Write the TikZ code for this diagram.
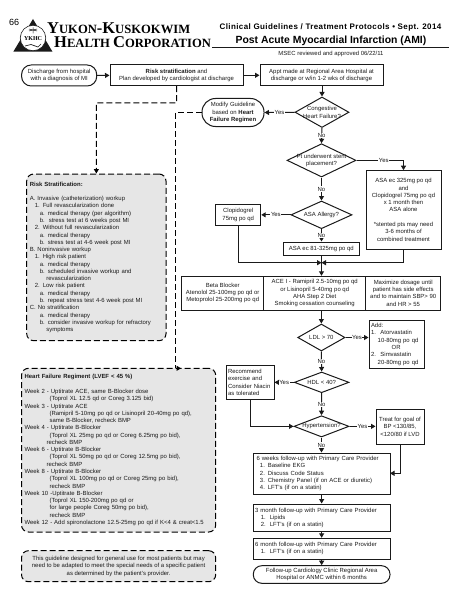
\documentclass[tikz,border=0pt]{standalone}
\usepackage{fontspec}
\setmainfont{Liberation Sans}
\newfontfamily\serifcaps{Liberation Serif}
\newfontfamily\spaced[LetterSpace=5]{Liberation Sans}
\usetikzlibrary{arrows.meta,shapes.geometric,calc}
\definecolor{panel}{HTML}{E6E6E6}
\definecolor{ink}{HTML}{1A1A1A}
\newcommand{\fs}{\fontsize{5.95}{7.27}\selectfont}
\newcommand{\ycaps}[2]{{\fontsize{16.5}{16.5}\selectfont #1}{\fontsize{12.6}{12.6}\selectfont #2}}
\tikzset{
  flowbox/.style={draw=ink,line width=1pt,align=center,inner sep=0pt,font=\fs,text=ink},
  leftbox/.style={flowbox,align=left},
  term/.style={flowbox,rounded corners=9.5pt},
  dec/.style={draw=ink,line width=1pt,shape=diamond,inner sep=0pt,aspect=2},
  dectext/.style={font=\fs,align=center,text=ink,inner sep=0pt},
  panelbox/.style={draw=black,fill=panel,line width=1pt,dash pattern=on 6pt off 3pt,rounded corners=7pt,inner sep=0pt,font=\fs,text=ink},
  conn/.style={draw=ink,line width=1pt,-{Triangle[length=4.5pt,width=5pt]}},
  dconn/.style={draw=black,line width=1pt,dash pattern=on 6pt off 3pt},
  ans/.style={font=\fs,fill=white,inner sep=0.6pt,text=ink}
}
\newcommand{\pbx}[7]{\node[#1,minimum width={(#5-#3)*1pt},minimum height={(#6-#4)*1pt}] (#2) at ({(#3+#5)/2},{(#4+#6)/2}) {#7};}
\newcommand{\pdec}[6]{\node[dec,minimum width={(#4-#2)*1pt},minimum height={(#5-#3)*1pt}] (#1) at ({(#2+#4)/2},{(#3+#5)/2}) {};\node[dectext] (#1t) at (#1.center) {#6};}
\begin{document}
\begin{tikzpicture}[x=1pt,y=-1pt]
\useasboundingbox (0,0) rectangle (463,599);
% header
\node[font=\fontsize{9}{9}\selectfont,inner sep=0pt] (pagenum) at (14.2,22.7) {66};
\fill[ink] (33,19) -- (52.5,51.7) -- (13.3,51.7) -- cycle;
\node[circle,draw=ink,fill=white,line width=.6pt,minimum size=25.5pt,inner sep=0pt] (seal) at (33,38) {};
\node[font=\serifcaps\bfseries\fontsize{6}{6}\selectfont,inner sep=0pt] (sealtext) at (33,39) {YKHC};
\draw[ink,line width=.5pt] (33,33.5) -- (33,27.5) (29,31) -- (37,29) (29,29) -- (37,31);
\draw[ink,line width=.7pt] (25,46) -- (31,44.5) -- (38,47) -- (41,44);
\node[font=\serifcaps\bfseries,anchor=base west,inner sep=0pt] (ykhc1) at (47,33.2) {\ycaps{Y}{UKON}\ycaps{-K}{USKOKWIM}};
\node[font=\serifcaps\bfseries,anchor=base west,inner sep=0pt] (ykhc2) at (54,47.4) {\ycaps{H}{EALTH }\ycaps{C}{ORPORATION}};
\node[font=\spaced\bfseries\fontsize{8}{8}\selectfont,inner sep=0pt] (cg) at (330.5,27.7) {Clinical Guidelines / Treatment Protocols • Sept. 2014};
\node[font=\bfseries\fontsize{10.4}{10.4}\selectfont,inner sep=0pt] (title) at (331,40.5) {Post Acute Myocardial Infarction (AMI)};
\coordinate (rulel) at (212,47.2);
\coordinate (ruler) at (449,47.2);
\draw[ink,line width=1pt] (rulel) -- (ruler);
\node[font=\fs,inner sep=0pt,text=ink] (msec) at (331,53.5) {MSEC reviewed and approved 06/22/11};
% top row
\pbx{term}{disch}{21.6}{65}{96.7}{86}{Discharge from hospital\\with a diagnosis of MI}
\pbx{flowbox}{risk}{110}{65}{243}{85.6}{{\bfseries Risk stratification} and\\Plan developed by cardiologist at discharge}
\pbx{flowbox}{appt}{260}{65}{383}{85.6}{Appt made at Regional Area Hospital at\\discharge or w/in 1-2 wks of discharge}
% decisions
\pdec{chf}{295}{97}{349}{127.5}{Congestive\\Heart Failure?}
\pbx{term,rounded corners=13.5pt}{modify}{202}{98.5}{264}{126.5}{Modify Guideline\\based on {\bfseries Heart}\\{\bfseries Failure Regimen}}
\pdec{stent}{287}{143.7}{356}{177}{Pt underwent stent\\placement?}
\pbx{flowbox}{asabox}{366}{170.7}{441}{249}{ASA ec 325mg po qd\\and\\Clopidogrel 75mg po qd\\x 1 month then\\ASA alone\\[7.27pt]*stented pts may need\\3-6 months of\\combined treatment}
\pdec{allergy}{291}{201}{352}{228.7}{ASA Allergy?}
\pbx{flowbox}{clop}{215.7}{204.7}{260.7}{225}{Clopidogrel\\75mg po qd}
\pbx{flowbox}{asaec}{283.7}{242}{359}{255.7}{ASA ec 81-325mg po qd}
% three-part box
\pbx{flowbox}{beta}{181.7}{276.3}{263.7}{310}{Beta Blocker\\Atenolol 25-100mg po qd or\\Metoprolol 25-200mg po qd}
\pbx{flowbox}{ace}{263.7}{276.3}{365.7}{310}{ACE I - Ramipril 2.5-10mg po qd\\or Lisinopril 5-40mg po qd\\AHA Step 2 Diet\\Smoking cessation counseling}
\pbx{flowbox}{maxd}{365.7}{276.3}{440.7}{310}{Maximize dosage until\\patient has side effects\\and to maintain SBP> 90\\and HR > 55}
\pdec{ldl}{297.7}{324}{345}{351}{LDL > 70}
\pbx{leftbox,inner xsep=2pt,text width=51pt}{add}{369}{320.7}{424}{368}{Add:\\1.\hspace*{4.5pt}Atorvastatin\\\hspace*{6.7pt}10-80mg po qd\\\hspace*{20.7pt}OR\\2.\hspace*{4.5pt}Simvastatin\\\hspace*{6.7pt}20-80mg po qd}
\pdec{hdl}{294.3}{372}{349}{392.7}{HDL < 40?}
\pbx{leftbox,inner xsep=2pt,text width=44pt}{recom}{226}{365}{274}{399.7}{Recommend\\exercise and\\Consider Niacin\\as tolerated}
\pdec{htn}{294}{415.7}{349}{437}{Hypertension?}
\pbx{flowbox}{treat}{376}{409.7}{424}{444}{Treat for goal of\\BP <130/85,\\<120/80 if LVD}
\pbx{leftbox,inner xsep=3.3pt,text width=130pt}{six}{253.3}{453}{390}{494}{6 weeks follow-up with Primary Care Provider\\\hspace*{3.3pt}1. Baseline EKG\\\hspace*{3.3pt}2. Discuss Code Status\\\hspace*{3.3pt}3. Chemistry Panel (if on ACE or diuretic)\\\hspace*{3.3pt}4. LFT's (if on a statin)}
\pbx{leftbox,inner xsep=1.7pt,text width=133pt}{three}{253.3}{504}{390}{531.7}{3 month follow-up with Primary Care Provider\\\hspace*{5.7pt}1.\hspace*{4pt}Lipids\\\hspace*{5.7pt}2.\hspace*{4pt}LFT's (if on a statin)}
\pbx{leftbox,inner xsep=1.7pt,text width=133pt}{sixm}{253.3}{538.3}{390}{559}{6 month follow-up with Primary Care Provider\\\hspace*{5.7pt}1.\hspace*{4pt}LFT's (if on a statin)}
\pbx{term,rounded corners=8.5pt}{fup}{253.3}{565.7}{390}{583.3}{Follow-up Cardiology Clinic Regional Area\\Hospital or ANMC within 6 months}
% panels
\pbx{panelbox,align=left,text width=133pt}{riskp}{26.7}{174}{166}{340.7}{{\bfseries Risk Stratification:}\\[7.27pt]A. Invasive (catheterization) workup\\
\hspace*{5pt}1. Full revascularization done\\
\hspace*{10pt}a. medical therapy (per algorithm)\\
\hspace*{10pt}b.\ \ stress test at 6 weeks post MI\\
\hspace*{5pt}2. Without full revascularization\\
\hspace*{10pt}a. medical therapy\\
\hspace*{10pt}b. stress test at 4-6 week post MI\\
B. Noninvasive workup\\
\hspace*{5pt}1. High risk patient\\
\hspace*{10pt}a. medical therapy\\
\hspace*{10pt}b. scheduled invasive workup and\\
\hspace*{16.5pt}revascularization\\
\hspace*{5pt}2. Low risk patient\\
\hspace*{10pt}a. medical therapy\\
\hspace*{10pt}b. repeat stress test 4-6 week post MI\\
C. No stratification\\
\hspace*{10pt}a. medical therapy\\
\hspace*{10pt}b. consider invasive workup for refractory\\
\hspace*{16.5pt}symptoms}
\pbx{panelbox,align=left,text width=188pt}{hfp}{21.5}{368.3}{215.7}{532}{{\bfseries Heart Failure Regiment (LVEF < 45 \%)}\\[7.27pt]Week 2 - Uptitrate ACE, same B-Blocker dose\\
\hspace*{25pt}(Toprol XL 12.5 qd or Coreg 3.125 bid)\\
Week 3 - Uptitrate ACE\\
\hspace*{25pt}(Ramipril 5-10mg po qd or Lisinopril 20-40mg po qd),\\
\hspace*{25pt}same B-Blocker, recheck BMP\\
Week 4 - Uptitrate B-Blocker\\
\hspace*{25pt}(Toprol XL 25mg po qd or Coreg 6.25mg po bid),\\
\hspace*{22pt}recheck BMP\\
Week 6 - Uptitrate B-Blocker\\
\hspace*{25pt}(Toprol XL 50mg po qd or Coreg 12.5mg po bid),\\
\hspace*{22pt}recheck BMP\\
Week 8 - Uptitrate B-Blocker\\
\hspace*{25pt}(Toprol XL 100mg po qd or Coreg 25mg po bid),\\
\hspace*{25pt}recheck BMP\\
Week 10 -Uptitrate B-Blocker\\
\hspace*{25pt}(Toprol XL 150-200mg po qd or\\
\hspace*{25pt}for large people Coreg 50mg po bid),\\
\hspace*{25pt}recheck BMP\\
Week 12 - Add spironolactone 12.5-25mg po qd if K<4 \& creat<1.5}
\pbx{panelbox,align=center}{notep}{21.5}{550.7}{215.7}{581.7}{This guideline designed for general use for most patients but may\\need to be adapted to meet the special needs of a specific patient\\as determined by the patient's provider.}
% connectors
\draw[conn] (disch) -- (risk);
\draw[conn] (risk) -- (appt);
\draw[conn] (appt.south -| chf) -- (chf.north);
\draw[conn] (chf.west) -- node[ans]{Yes} (modify.east);
\draw[conn] (chf.south) -- node[ans]{No} (stent.north);
\draw[conn] (stent.south) -- node[ans]{No} (allergy.north);
\draw[conn] (stent.east) -- node[ans,pos=.58]{Yes} (stent.east -| asabox) -- (asabox.north);
\draw[conn] (allergy.west) -- node[ans]{Yes} (clop.east);
\draw[conn] (allergy.south) -- node[ans]{No} (asaec.north -| allergy);
\coordinate (merge) at (321.5,262.7);
\draw[conn] (clop.south) |- (merge);
\draw[conn] (asabox.south) |- (merge);
\draw[conn] (asaec.south -| merge) -- (ace.north -| merge);
\draw[conn] (ace.south -| ldl) -- (ldl.north);
\draw[conn] (ldl.east) -- node[ans]{Yes} (ldl.east -| add.west);
\draw[conn] (ldl.south) -- node[ans]{No} (hdl.north);
\draw[conn] (hdl.west) -- node[ans]{Yes} (hdl.west -| recom.east);
\draw[conn] (hdl.south) -- node[ans]{No} (htn.north);
\coordinate (recomout) at (250,399.7);
\draw[conn] (recomout) |- (htn.west);
\draw[conn] (htn.east) -- node[ans]{Yes} (htn.east -| treat.west);
\draw[conn] (htn.south) -- node[ans]{No} (htn.south |- six.north);
\coordinate (treatout) at (400,444);
\coordinate (sixin) at (390,473.3);
\draw[conn] (treatout) |- (sixin);
\draw[conn] (six) -- (three);
\draw[conn] (three) -- (sixm);
\draw[conn] (sixm) -- (fup);
% dashed connectors
\coordinate (dk1) at (176.5,103);
\coordinate (dk2) at (96.35,103);
\draw[dconn] (risk.south) -- (dk1) -- (dk2) -- ($(riskp.north)+(0,-4)$);
\fill[black] (riskp.north) -- ++(-2.6,-4.4) -- ++(5.2,0) -- cycle;
\coordinate (hf1) at (175,112.5);
\coordinate (hf2) at (175,368.3);
\coordinate (hf3) at (181,368.3);
\draw[dconn] (modify.west) -- (hf1) -- (hf2);
\fill[black] (hf3) -- ++(-4.4,-2.6) -- ++(0,5.2) -- cycle;
\end{tikzpicture}
\end{document}
